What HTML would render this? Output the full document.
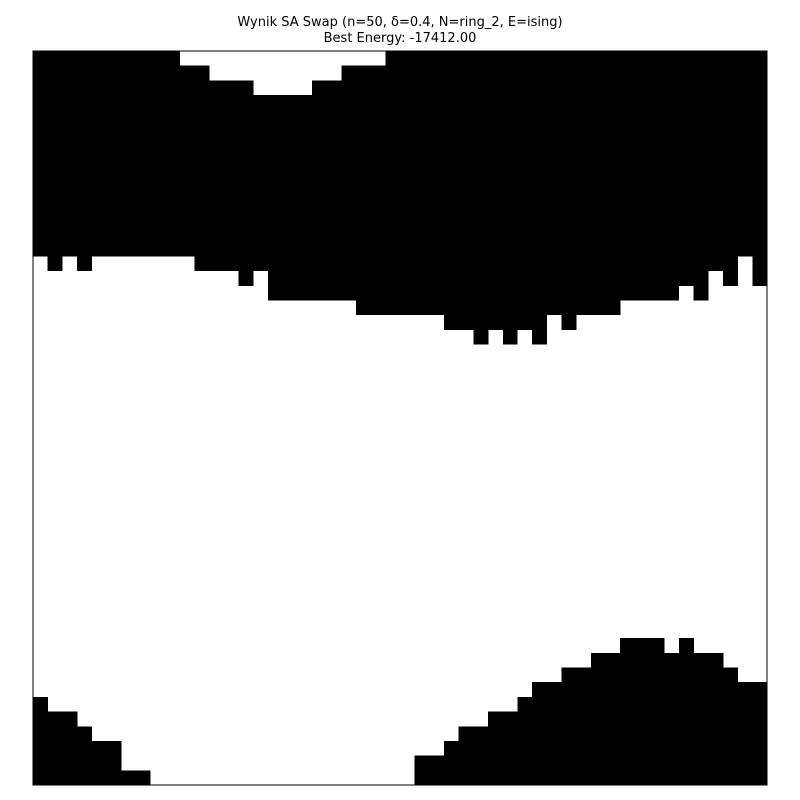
<!DOCTYPE html>
<html><head><meta charset="utf-8"><style>
body{margin:0;background:#fff;width:800px;height:800px;overflow:hidden}
svg{display:block}
</style></head><body>
<svg id="chart" width="800" height="800">
<text x="400" y="26" text-anchor="middle" font-family="DejaVu Sans, sans-serif" font-size="13">Wynik SA Swap (n=50, δ=0.4, N=ring_2, E=ising)</text>
<text x="400" y="42" text-anchor="middle" font-family="DejaVu Sans, sans-serif" font-size="13">Best Energy: -17412.00</text>
<g id="cells" shape-rendering="crispEdges"></g>
<rect x="33" y="51" width="734" height="734" fill="none" stroke="#000" stroke-width="1"/>
</svg>
<script>
// per-column: row index where top black region ends (exclusive)
const topEnd = [14,15,14,15,14,14,14,14,14,14,14,15,15,15,16,15,17,17,17,17,17,17,18,18,18,18,18,18,19,19,20,19,20,19,20,18,19,18,18,18,17,17,17,17,16,17,15,16,14,16];
// per-column: number of white rows at the very top (white holes in top region)
const topWhite = [0,0,0,0,0,0,0,0,0,0,1,1,2,2,2,3,3,3,3,2,2,1,1,1,0,0,0,0,0,0,0,0,0,0,0,0,0,0,0,0,0,0,0,0,0,0,0,0,0,0];
// per-column: row index where bottom black region starts
const botStart = [44,45,45,46,47,47,49,49,50,50,50,50,50,50,50,50,50,50,50,50,50,50,50,50,50,50,48,48,47,46,46,45,45,44,43,43,42,42,41,41,40,40,40,41,40,41,41,42,43,43];
const N = 50;
const x0 = 33, y0 = 51, size = 734;
const cell = size / N;
function xs(c){ return x0 + c*cell; }
function ys(r){ return y0 + r*cell; }
const g = document.getElementById('cells');
const ns = 'http://www.w3.org/2000/svg';
function addRect(c, r0, r1, name){
  if (r1 <= r0) return;
  const rc = document.createElementNS(ns, 'rect');
  rc.setAttribute('x', xs(c));
  rc.setAttribute('y', ys(r0));
  rc.setAttribute('width', xs(c+1) - xs(c) + 0.3);
  rc.setAttribute('height', ys(r1) - ys(r0));
  rc.setAttribute('fill', '#000');
  
  
  g.appendChild(rc);
}
for (let c = 0; c < N; c++){
  addRect(c, topWhite[c], topEnd[c], 'top-black-column');
  addRect(c, botStart[c], N, 'bottom-black-column');
}
</script>
</body></html>
